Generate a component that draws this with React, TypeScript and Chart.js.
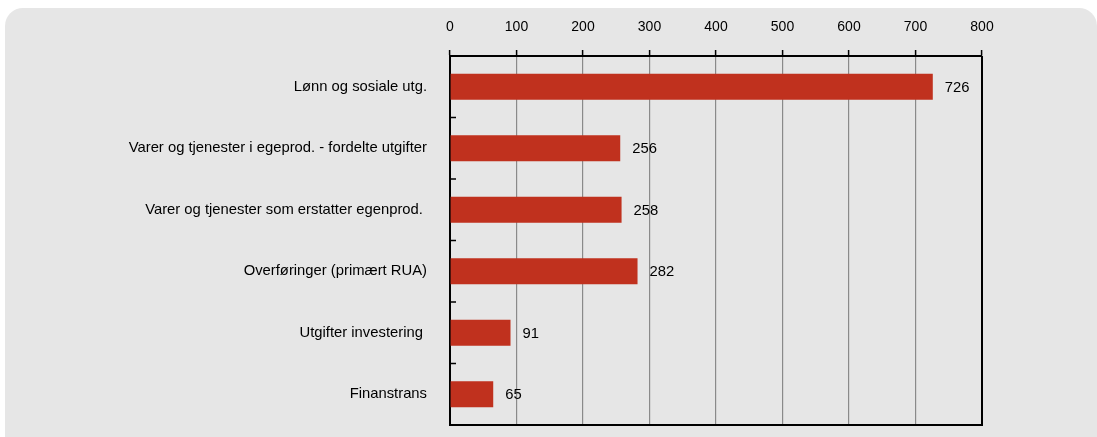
import React, { useEffect, useRef } from "react";
import { Chart, registerables } from "chart.js";

Chart.register(...registerables);

const categories = [
  "Lønn og sosiale utg.",
  "Varer og tjenester i egeprod. - fordelte utgifter",
  "Varer og tjenester som erstatter egenprod. ",
  "Overføringer (primært RUA)",
  "Utgifter investering ",
  "Finanstrans",
];
const values = [726, 256, 258, 282, 91, 65];
const xTicks = [0, 100, 200, 300, 400, 500, 600, 700, 800];

const FONT = "'Liberation Sans', Arial, Helvetica, sans-serif";
const BAR_COLOR = "#c0311e";

const bgPlugin = {
  id: "bgPlugin",
  beforeDraw(chart: any) {
    const c = chart.ctx;
    c.save();
    c.fillStyle = "#ffffff";
    c.fillRect(0, 0, chart.width, chart.height);
    c.fillStyle = "#e6e6e6";
    const x = 5, y = 8, w = 1092, h = 460, r = 18;
    c.beginPath();
    c.moveTo(x + r, y);
    c.lineTo(x + w - r, y);
    c.arcTo(x + w, y, x + w, y + r, r);
    c.lineTo(x + w, y + h);
    c.lineTo(x, y + h);
    c.lineTo(x, y + r);
    c.arcTo(x, y, x + r, y, r);
    c.closePath();
    c.fill();
    c.restore();
  },
};

const boxPlugin = {
  id: "boxPlugin",
  afterDatasetsDraw(chart: any) {
    const c = chart.ctx;
    const a = chart.chartArea;
    const yScale = chart.scales.y;
    c.save();
    const meta = chart.getDatasetMeta(0);
    c.fillStyle = "#000";
    c.font = `14.8px ${FONT}`;
    c.textAlign = "left";
    c.textBaseline = "middle";
    meta.data.forEach((bar: any, i: number) => {
      c.fillText(String(values[i]), bar.x + 12, bar.y + 1);
    });
    c.strokeStyle = "#000";
    c.lineWidth = 2;
    c.beginPath();
    c.moveTo(a.left, a.bottom);
    c.lineTo(a.right + 1, a.bottom);
    c.moveTo(a.right, a.top);
    c.lineTo(a.right, a.bottom);
    c.stroke();
    c.lineWidth = 1.5;
    const n = categories.length;
    const step = (yScale.bottom - yScale.top) / n;
    c.beginPath();
    for (let i = 1; i < n; i++) {
      const yy = yScale.top + step * i;
      c.moveTo(a.left, yy);
      c.lineTo(a.left + 6, yy);
    }
    c.stroke();
    c.restore();
  },
};

export default function App() {
  const ref = useRef<HTMLCanvasElement>(null);
  useEffect(() => {
    if (!ref.current) return;
    const chart = new Chart(ref.current, {
      type: "bar",
      data: {
        labels: categories,
        datasets: [
          {
            data: values,
            backgroundColor: BAR_COLOR,
            borderWidth: 0,
            barPercentage: 0.42,
            categoryPercentage: 1,
          },
        ],
      },
      options: {
        indexAxis: "y",
        animation: false,
        responsive: false,
        maintainAspectRatio: false,
        layout: { padding: { left: 0, top: 0, right: 115, bottom: 12 } },
        plugins: {
          legend: { display: false },
          tooltip: { enabled: false },
        },
        scales: {
          x: {
            position: "top",
            min: 0,
            max: 800,
            afterFit(scale: any) {
              scale.height = 56;
              scale.paddingLeft = 0;
              scale.paddingRight = 0;
              scale.paddingTop = 0;
              scale.paddingBottom = 0;
            },
            afterBuildTicks(scale: any) {
              scale.ticks = xTicks.map((v) => ({ value: v }));
            },
            ticks: {
              color: "#000",
              font: { family: FONT, size: 14 },
              padding: 14,
              maxRotation: 0,
            },
            grid: {
              color: "#8a8a8a",
              lineWidth: 1.2,
              drawTicks: true,
              tickLength: 6,
              tickColor: "#000",
              tickWidth: 1.5,
            },
            border: { display: true, color: "#000", width: 2 },
          },
          y: {
            afterFit(scale: any) {
              scale.width = 450;
              scale.paddingLeft = 0;
              scale.paddingRight = 0;
              scale.paddingTop = 0;
              scale.paddingBottom = 0;
            },
            ticks: {
              color: "#000",
              font: { family: FONT, size: 14.8 },
              padding: 15,
            },
            grid: { display: false },
            border: { display: true, color: "#000", width: 2 },
          },
        },
      } as any,
      plugins: [bgPlugin, boxPlugin],
    });
    return () => chart.destroy();
  }, []);
  return (
    <div style={{ position: "absolute", left: 0, top: 0, width: 1097, height: 437, overflow: "hidden" }}>
      <canvas ref={ref} width={1097} height={437} style={{ display: "block", width: 1097, height: 437 }} />
    </div>
  );
}
